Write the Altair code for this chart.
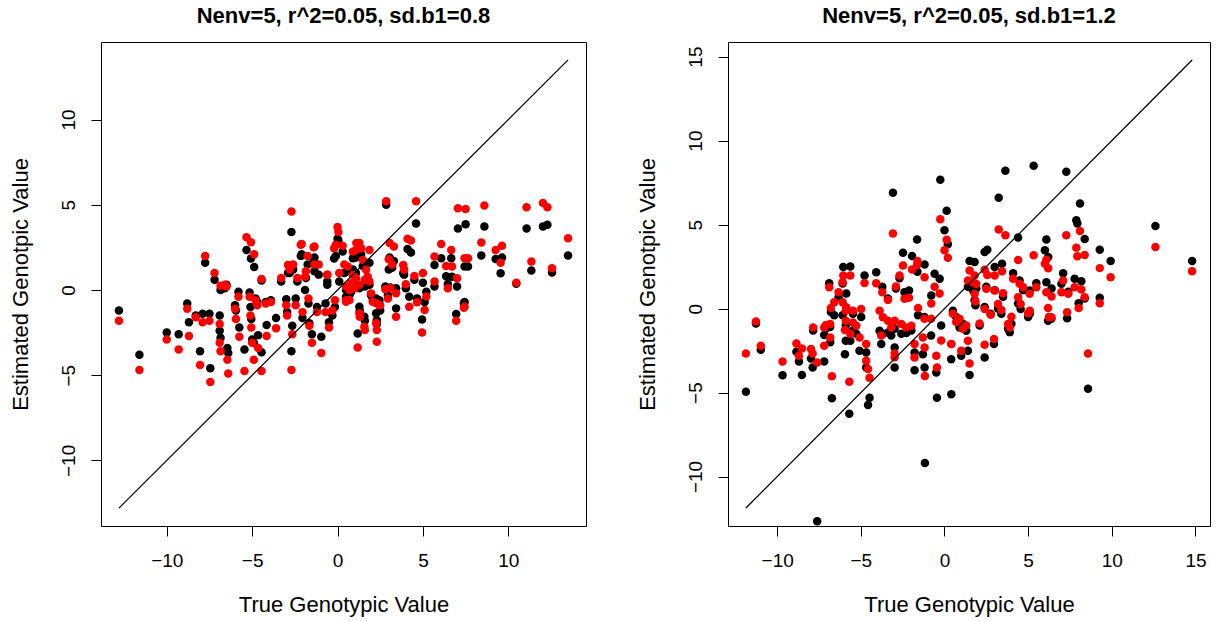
import altair as alt
import pandas as pd

# ---------------- Left panel (sd.b1 = 0.8) ----------------
left_true = [-12.8, -11.6, -10.0, -9.3, -8.8, -8.7, -8.3, -8.05, -7.9, -7.75, -7.5, -7.45, -7.2, -6.9, -6.9,
             -6.85, -6.6, -6.85, -6.45, -6.4, -6.5, -5.8, -6.0, -5.95, -5.75, -5.45, -5.33, -5.07, -4.88, -5.15,
             -5.1, -5.05, -5.0, -4.65, -4.45, -4.9, -4.8, -4.7, -4.45, -4.15, -4.2, -3.9, -3.6, -3.3, -3.0,
             -2.95, -2.7, -2.7, -2.65, -2.45, -2.35, -2.8, -2.6, -2.05, -2.1, -1.85, -1.65, -1.5, -1.75, -1.4,
             -1.35, -1.2, -0.95, -0.7, -0.5, -0.6, -0.15, -0.2, 0.0, 0.05, 0.3, 0.4, 0.5,
             2.85, 4.6, 7.05, 7.5, 4.1, 4.3, 3.05, 3.3, 3.0, 3.2, 3.85, 3.9, 4.5, 5.0, 4.0, 2.8, 3.1, 2.95,
             3.43, 4.2, 4.66, 5.2, 5.1, 4.95, 3.43, 5.68, 5.68, 6.07, 6.66, 6.36, 6.7, 6.46, 7.0, 7.44, 7.44,
             6.95, 1.28, 1.38, 0.9, 1.08, 1.87, 1.48, 0.6, 0.9, 1.08, 1.67, 1.77, 1.87, 0.5, 0.7, 1.0, 1.28,
             1.96, 2.06, 2.26, 1.28, 1.3, 1.57, 1.6, 1.18, 2.26, 2.3, 2.3, 0.5, 0.7, 2.45,
             8.6, 11.07, 12.03, 12.29, 13.5, 8.42, 9.26, 9.63, 9.55, 7.64, 10.47, 11.35, 12.56, 7.4,
             -2.15, -1.35, -0.1, 1.1, -2.9, -1.9, -1.1, -0.6, 0.1, 0.8, 1.6, -1.7, -0.3, 2.5]
left_black = [-1.2, -3.8, -2.5, -2.6, -0.8, -1.9, -1.5, -3.6, -1.4, 1.6, -1.4, -4.6, 0.6, -1.5, -2.4,
              -2.8, 0.1, 0.0, -3.4, -3.7, 0.3, -0.1, -0.9, -1.2, -2.2, -3.5, 2.35, 1.85, 1.35, -0.15,
              -1.0, -1.7, -2.9, -2.65, -3.65, -3.1, -0.5, -0.7, 0.55, -2.05, -0.7, -0.6, -1.65, 0.5, -0.55,
              -1.3, -3.6, 3.4, -2.1, -0.5, 0.5, 1.0, 1.2, -1.65, 2.1, 0.7, -1.95, -2.6, 1.5, 1.8,
              1.1, -1.0, -2.75, -0.8, -1.9, 0.5, -1.0, 1.85, 3.0, 2.9, 2.25, 1.0, -0.5,
              5.0, 3.9, 3.6, 3.86, 2.4, 2.2, 1.9, 1.7, 1.2, 1.3, 0.98, 0.9, 0.6, 0.43, 0.1, 0.2, 0.15, -0.3,
              0.1, -0.4, -0.5, -0.1, -0.7, -1.73, -1.08, 0.2, 1.47, 1.86, 1.86, 0.8, 0.78, 0.35, 0.2, 1.37, -0.7,
              -1.41, 2.0, 2.1, 1.86, 1.9, 1.6, 1.4, 1.1, 1.2, 1.0, 1.6, 0.5, 0.3, 0.0, -0.2, 0.3, 0.1,
              -0.3, -0.5, -0.5, -0.98, -1.2, -1.57, -1.8, -2.55, -1.37, -1.76, -2.0, -0.4, -0.3, -0.6,
              3.72, 3.6, 3.72, 3.82, 2.02, 2.02, 1.82, 1.9, 0.98, 1.37, 0.37, 1.14, 1.02, -0.78,
              2.0, 1.9, 2.0, 2.2, 1.0, 0.0, 0.9, 0.3, 0.5, -0.1, 0.2, -0.8, -1.5, -1.2]
left_red = [-1.8, -4.7, -2.9, -3.5, -1.1, -2.7, -1.6, -4.4, -1.9, 2.0, -1.8, -5.4, 1.0, -2.0, -3.1,
            -3.6, 0.3, 0.25, -4.1, -4.9, 0.2, -0.4, -1.1, -1.7, -2.75, -4.75, 3.1, 2.8, 2.1, -0.4,
            -1.5, -2.2, -3.1, -3.4, -4.75, -4.1, -0.6, -0.9, 0.65, -2.7, -0.8, -0.7, -2.25, 0.7, -0.9,
            -1.5, -4.7, 4.6, -2.6, -0.9, 0.7, 1.2, 1.5, -1.3, 2.7, 1.1, -2.1, -3.1, 2.0, 2.5,
            1.5, -1.3, -3.7, -1.3, -2.2, 0.9, -0.6, 2.45, 3.7, 3.4, 2.6, 1.5, -0.6,
            5.2, 5.2, 4.8, 4.75, 3.0, 2.9, 2.75, 2.55, 1.8, 1.5, 1.47, 1.2, 0.82, 1.0, 0.33, 0.04, 0.1, -0.5,
            -0.2, -0.98, -0.72, -0.39, -1.18, -2.5, -1.57, 0.49, 1.96, 2.7, 2.35, 1.41, 1.37, 0.1, 0.69, 1.86, -0.98,
            -1.8, 2.75, 2.45, 2.25, 2.35, 2.35, 1.76, 1.37, 0.88, 0.69, 1.18, 0.78, 0.49, 0.2, 0.0, 0.1, 0.3,
            -0.2, -0.69, -0.78, -1.37, -1.57, -2.16, -2.35, -3.37, -1.96, -2.35, -3.04, -0.69, -0.59, -0.88,
            4.96, 4.86, 5.1, 4.86, 3.04, 2.78, 2.35, 2.6, 1.6, 1.86, 0.43, 1.67, 1.27, -1.04,
            2.65, 2.55, 2.65, 2.75, 1.47, 0.78, 1.5, 0.9, 1.0, 0.4, 0.6, -0.5, -1.2, -0.9]
left_line = [-12.8, 13.5]
left_domain = [-13.85, 14.55]
left_ticks = [-10, -5, 0, 5, 10]

# ---------------- Right panel (sd.b1 = 1.2) ----------------
right_true = [-11.87, -11.27, -10.98, -9.68, -8.85, -8.52, -8.7, -7.98, -7.88, -7.61, -7.19, -7.85, -7.19, -7.09,
              -6.83, -6.83, -6.73, -6.89, -6.05, -6.09, -6.33, -6.59, -6.09, -6.79, -5.95, -5.69, -5.9, -5.63,
              -4.78, -4.08, -3.08, -1.64, -2.48, -1.94, -1.62, -1.19, -2.69, -2.9, -3.72, -2.39, -2.12, -3.38,
              -0.79, -0.59, -0.29, -1.58, -5.87, -5.47, -4.98, -5.9, -5.47, -5.27, -5.08, -4.68, -4.68, -4.48,
              -4.57, -5.63, -3.88, -3.68, -3.38, -3.18, -2.98, -2.58, -2.28, -1.98, -3.78, -2.98, -2.98, -1.79,
              -1.79, -1.29, -1.19, -1.17, -0.49, -0.45, 0.41, 0.0, 0.2, -0.25, 0.13, 3.24, 3.64, 4.4, 6.09,
              5.33, 6.0, 6.2, 2.4, 2.56, 1.5, 1.8, 1.4, 1.7, 1.9, 3.0, 3.44, 4.1, 4.49, 4.7, 2.5, 3.0, 3.5,
              1.8, 1.85, 5.09, 5.49, 6.09, 6.4, 4.4, 4.55, 5.1, 5.0, 6.19, 6.25, 2.4, 2.76, 3.2, 3.4, 3.8,
              4.0, 3.9, 2.1, 0.5, 0.9, 1.3, 0.7, 1.1, 0.4, 1.0, 1.4, 1.5, 2.4, 2.96, 7.28, 8.1, 7.88, 7.94,
              8.38, 9.28, 9.93, 12.61, 14.8, 7.09, 7.78, 8.18, 6.99, 7.4, 8.02, 8.38, 9.28, 7.33, 8.58, 6.39,
              -0.8, -0.2, -1.2]
right_black = [-4.95, -0.88, -2.45, -3.97, -2.57, -3.95, -3.15, -2.97, -3.51, -12.66, -3.15, -1.3, -1.57, -1.2,
               -2.0, -1.1, -5.34, 1.51, 2.47, 1.5, 0.68, -0.4, -0.4, -0.2, -2.71, -6.26, -1.91, 2.51,
               1.97, 2.17, 6.9, 4.11, 3.33, 3.13, 2.2, 2.63, 1.81, 1.2, 1.3, 0.97, 1.08, 0.6,
               0.78, 2.07, 1.78, -0.4, 0.9, -0.3, -0.5, -1.0, -1.3, -1.5, -2.51, -2.61, -3.51, -5.31,
               -5.74, -1.91, -1.32, -1.51, -1.42, -1.6, -1.2, -1.5, -1.45, -1.3, -2.11, -2.31, -3.51, -2.61,
               -3.67, -2.71, -3.51, -9.19, -3.81, -5.31, -5.1, 4.67, 3.83, 7.67, 5.82, 6.6, 8.21, 4.23, 4.11,
               8.51, 3.47, 3.07, 3.37, 3.51, 2.83, 2.77, 1.3, 1.1, 1.2, 2.47, 2.67, 2.11, 1.67, 1.1, 1.3, 1.1, 0.7,
               0.5, 0.2, 1.08, 1.51, 1.57, 1.2, 0.3, -0.02, -0.3, -0.5, -0.72, -0.5, 0.1, -0.3, 0.0, -0.3, -1.2,
               -0.9, -1.4, -1.0, -0.12, -1.12, -1.32, -0.5, -0.9, -3.01, -2.81, -2.51, -3.95, -2.91, -2.11, 8.15, 6.26, 5.26, 5.07,
               4.15, 3.51, 2.83, 4.92, 2.83, 2.11, 1.78, 1.63, 1.48, 1.0, 0.32, 0.6, 0.64, -0.58, -4.77, -0.6,
               -1.6, -1.0, -0.5]
right_red = [-2.67, -0.76, -2.21, -3.15, -2.07, -2.37, -2.8, -2.41, -2.67, -3.21, -2.21, -1.12, -1.12, -0.97,
             -1.72, -0.92, -4.03, 1.27, 1.97, 1.57, 0.97, 0.38, 0.38, 0.04, -1.27, -4.35, -0.12, 1.97,
             1.53, 1.51, 4.47, 2.6, 2.57, 2.33, 2.83, 1.87, 1.97, 1.32, 0.97, 0.58, 0.64, 0.52,
             0.3, 1.3, 0.9, 0.04, 0.08, -0.12, -0.02, -0.72, -0.82, -1.02, -1.72, -2.11, -3.11, -4.11,
             -3.6, -1.5, -0.12, -0.52, -0.72, -1.12, -0.72, -0.92, -1.12, -1.02, -1.6, -2.67, -2.9, -2.11,
             -2.91, -1.72, -2.31, -4.01, -2.81, -3.51, -2.11, 3.47, 3.03, 5.32, 4.1, 4.71, 4.37, 2.9, 2.91,
             3.17, 2.67, 2.4, 2.31, 2.0, 2.27, 1.97, 1.67, 1.57, 1.47, 1.97, 2.23, 1.78, 1.48, 1.27, 1.18, 1.08, 0.92,
             0.88, 0.44, 0.88, 1.27, 0.97, 0.72, 0.68, 0.28, -0.12, -0.28, 0.04, -0.52, -0.02, -0.36, 0.28, -0.08, -0.92,
             -0.48, -1.12, -0.88, -0.3, -0.6, -1.0, -0.8, -1.2, -2.11, -2.51, -1.91, -3.27, -2.15, -1.81, 4.37, 4.62, 3.63, 3.11,
             3.19, 2.41, 1.87, 3.67, 2.23, 1.67, 1.27, 1.14, 0.97, 0.88, 0.04, 0.68, 0.32, -0.22, -2.67, -0.52,
             -0.6, -1.9, -0.6]
right_line = [-11.87, 14.8]
right_domain = [-12.94, 15.87]
right_ticks = [-10, -5, 0, 5, 10, 15]

FONT = "Liberation Sans"


def make_panel(true, black, red, line_ends, dom, ticks, title, w, h):
    n = len(true)
    pts = pd.DataFrame({
        "true": list(true) + list(true),
        "est": list(black) + list(red),
        "grp": ["black"] * n + ["red"] * n,
    })
    ln = pd.DataFrame({"true": line_ends, "est": line_ends})
    xs = alt.Scale(domain=dom, nice=False, zero=False)
    ys = alt.Scale(domain=dom, nice=False, zero=False)
    x_enc = alt.X("true:Q", scale=xs,
                  axis=alt.Axis(values=ticks, title="True Genotypic Value",
                                labelPadding=15, titlePadding=24))
    y_enc = alt.Y("est:Q", scale=ys,
                  axis=alt.Axis(values=ticks, title="Estimated Genotpic Value",
                                labelAngle=-90, labelAlign="center", labelBaseline="bottom",
                                labelPadding=13, titlePadding=27))
    black_l = (alt.Chart(pts).transform_filter(alt.datum.grp == "black")
               .mark_circle(size=72, color="#000000", opacity=1)
               .encode(x=x_enc, y=y_enc))
    red_l = (alt.Chart(pts).transform_filter(alt.datum.grp == "red")
             .mark_circle(size=72, color="#FF0000", opacity=1)
             .encode(x=x_enc, y=y_enc))
    line_l = (alt.Chart(ln).mark_line(color="black", strokeWidth=1.3)
              .encode(x=x_enc, y=y_enc))
    return alt.layer(black_l, red_l, line_l).properties(
        width=w, height=h,
        title=alt.TitleParams(text=title, fontSize=22, fontWeight="bold", font=FONT,
                              anchor="middle", baseline="alphabetic", offset=-3, color="black"),
    )


left = make_panel(left_true, left_black, left_red, left_line, left_domain, left_ticks,
                  "Nenv=5, r^2=0.05, sd.b1=0.8", 485, 484)
right = make_panel(right_true, right_black, right_red, right_line, right_domain, right_ticks,
                   "Nenv=5, r^2=0.05, sd.b1=1.2", 482, 484)

chart = (alt.hconcat(left, right, spacing=48)
         .properties(padding={"left": 8, "top": 4, "right": 5, "bottom": 5}, background="white")
         .configure_view(stroke="black", strokeWidth=1)
         .configure_axis(grid=False, domain=False, tickColor="black", tickSize=10, tickWidth=1,
                         labelFont=FONT, labelFontSize=19, labelColor="black",
                         titleFont=FONT, titleFontSize=22, titleFontWeight="normal", titleColor="black"))

chart.save("out.html", embed_options={"renderer": "svg", "actions": False})
